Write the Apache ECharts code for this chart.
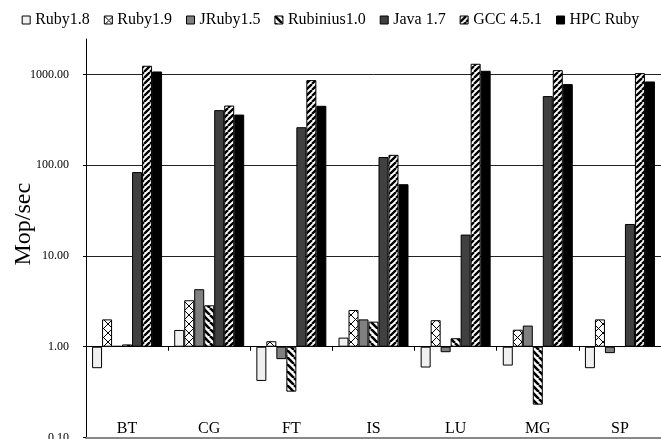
<!DOCTYPE html>
<html>
<head>
<meta charset="utf-8">
<script src="https://cdn.jsdelivr.net/npm/echarts@6/dist/echarts.min.js"></script>
<style>
  html, body { margin: 0; padding: 0; background: #fff; }
  #chart { width: 661px; height: 439px; }
</style>
</head>
<body>
<div id="chart"></div>
<script>
// ---- Data (Mop/sec, log scale, bars drawn from 1.00) ----
const categories = ['BT', 'CG', 'FT', 'IS', 'LU', 'MG', 'SP'];
const seriesNames = ['Ruby1.8', 'Ruby1.9', 'JRuby1.5', 'Rubinius1.0', 'Java 1.7', 'GCC 4.5.1', 'HPC Ruby'];
const ruby18     = [0.58, 1.53, 0.42, 1.26, 0.59, 0.62, 0.58];
const ruby19     = [2.00, 3.25, 1.15, 2.54, 1.96, 1.54, 2.00];
const jruby15    = [1.02, 4.30, 0.73, 2.00, 0.87, 1.71, 0.85];
const rubinius10 = [1.06, 2.86, 0.32, 1.89, 1.24, 0.23, 1.01];
const java17     = [84, 404, 262, 123, 17.2, 577, 22.5];
const gcc451     = [1245, 454, 865, 130, 1310, 1115, 1033];
const hpcRuby    = [1077, 361, 451, 61.7, 1096, 782, 836];
const yTickLabels = ['0.10', '1.00', '10.00', '100.00', '1000.00'];

const FONT = '"Liberation Serif", "Times New Roman", serif';

function makePattern(type) {
  const c = document.createElement('canvas');
  const s = type === 'cross' ? 9 : (type === 'back' ? 7 : 6);
  c.width = s; c.height = s;
  const g = c.getContext('2d');
  g.fillStyle = '#ffffff';
  g.fillRect(0, 0, s, s);
  g.strokeStyle = '#000000';
  g.beginPath();
  if (type === 'fwd' || type === 'cross') {
    for (let k = -1; k <= 1; k++) { g.moveTo(k * s, s); g.lineTo(k * s + s, 0); }
  }
  if (type === 'back' || type === 'cross') {
    for (let k = -1; k <= 1; k++) { g.moveTo(k * s, 0); g.lineTo(k * s + s, s); }
  }
  g.lineWidth = type === 'cross' ? 1 : (type === 'back' ? 2.6 : 2.3);
  g.stroke();
  return { image: c, repeat: 'repeat' };
}

const fills = [
  '#f0f0f0',
  makePattern('cross'),
  '#808080',
  makePattern('back'),
  '#404040',
  makePattern('fwd'),
  '#000000'
];
const values = [ruby18, ruby19, jruby15, rubinius10, java17, gcc451, hpcRuby];

const series = seriesNames.map((name, i) => ({
  name: name,
  type: 'bar',
  xAxisIndex: 0,
  barWidth: 10,
  barGap: '0%',
  itemStyle: { color: fills[i], borderColor: '#000', borderWidth: 1 },
  data: values[i].map(v => Math.log10(v))
}));

const chart = echarts.init(document.getElementById('chart'), null, { renderer: 'canvas' });
chart.setOption({
  animation: false,
  backgroundColor: '#fff',
  textStyle: { fontFamily: FONT, color: '#000' },
  legend: {
    top: 7,
    left: 'center',
    icon: 'rect',
    itemWidth: 8,
    itemHeight: 8,
    itemGap: 14,
    itemStyle: { borderColor: '#000', borderWidth: 1 },
    textStyle: { fontFamily: FONT, fontSize: 16, color: '#000' },
    data: seriesNames
  },
  grid: { left: 86, right: 0, top: 39, bottom: 1.5, containLabel: false, outerBoundsMode: 'none' },
  xAxis: [
    {
      type: 'category',
      data: categories,
      position: 'bottom',
      axisLine: { onZero: true, lineStyle: { color: '#000', width: 1 } },
      axisTick: { show: true, length: 4, lineStyle: { color: '#000' } },
      axisLabel: { show: false },
      splitLine: { show: false }
    },
    {
      type: 'category',
      data: categories,
      position: 'bottom',
      axisLine: { onZero: false, lineStyle: { color: '#888', width: 2 } },
      axisTick: { show: false },
      axisLabel: { show: true, inside: true, margin: 1, fontFamily: FONT, fontSize: 16, color: '#000' },
      splitLine: { show: false }
    }
  ],
  yAxis: {
    type: 'value',
    min: -1,
    max: 3.39,
    interval: 1,
    name: 'Mop/sec',
    nameLocation: 'middle',
    nameGap: 50,
    nameMoveOverlap: false,
    nameTextStyle: { fontFamily: FONT, fontSize: 24, color: '#000', padding: [0, 0, 0, 28] },
    axisLine: { show: true, lineStyle: { color: '#000', width: 1 } },
    axisTick: { show: true, length: 3, inside: false, lineStyle: { color: '#000' }, customValues: [-1, 0, 1, 2, 3] },
    axisLabel: {
      margin: 17,
      fontFamily: FONT,
      fontSize: 12,
      color: '#000',
      customValues: [-1, 0, 1, 2, 3],
      formatter: v => {
        const idx = Math.round(v) + 1;
        return (Math.abs(v - Math.round(v)) < 1e-9 && yTickLabels[idx]) ? yTickLabels[idx] : '';
      }
    },
    splitLine: {
      show: true,
      lineStyle: { color: ['rgba(0,0,0,0)', '#222', '#222', '#222', '#222', 'rgba(0,0,0,0)'], width: 1 }
    }
  },
  series: series
});
</script>
</body>
</html>
